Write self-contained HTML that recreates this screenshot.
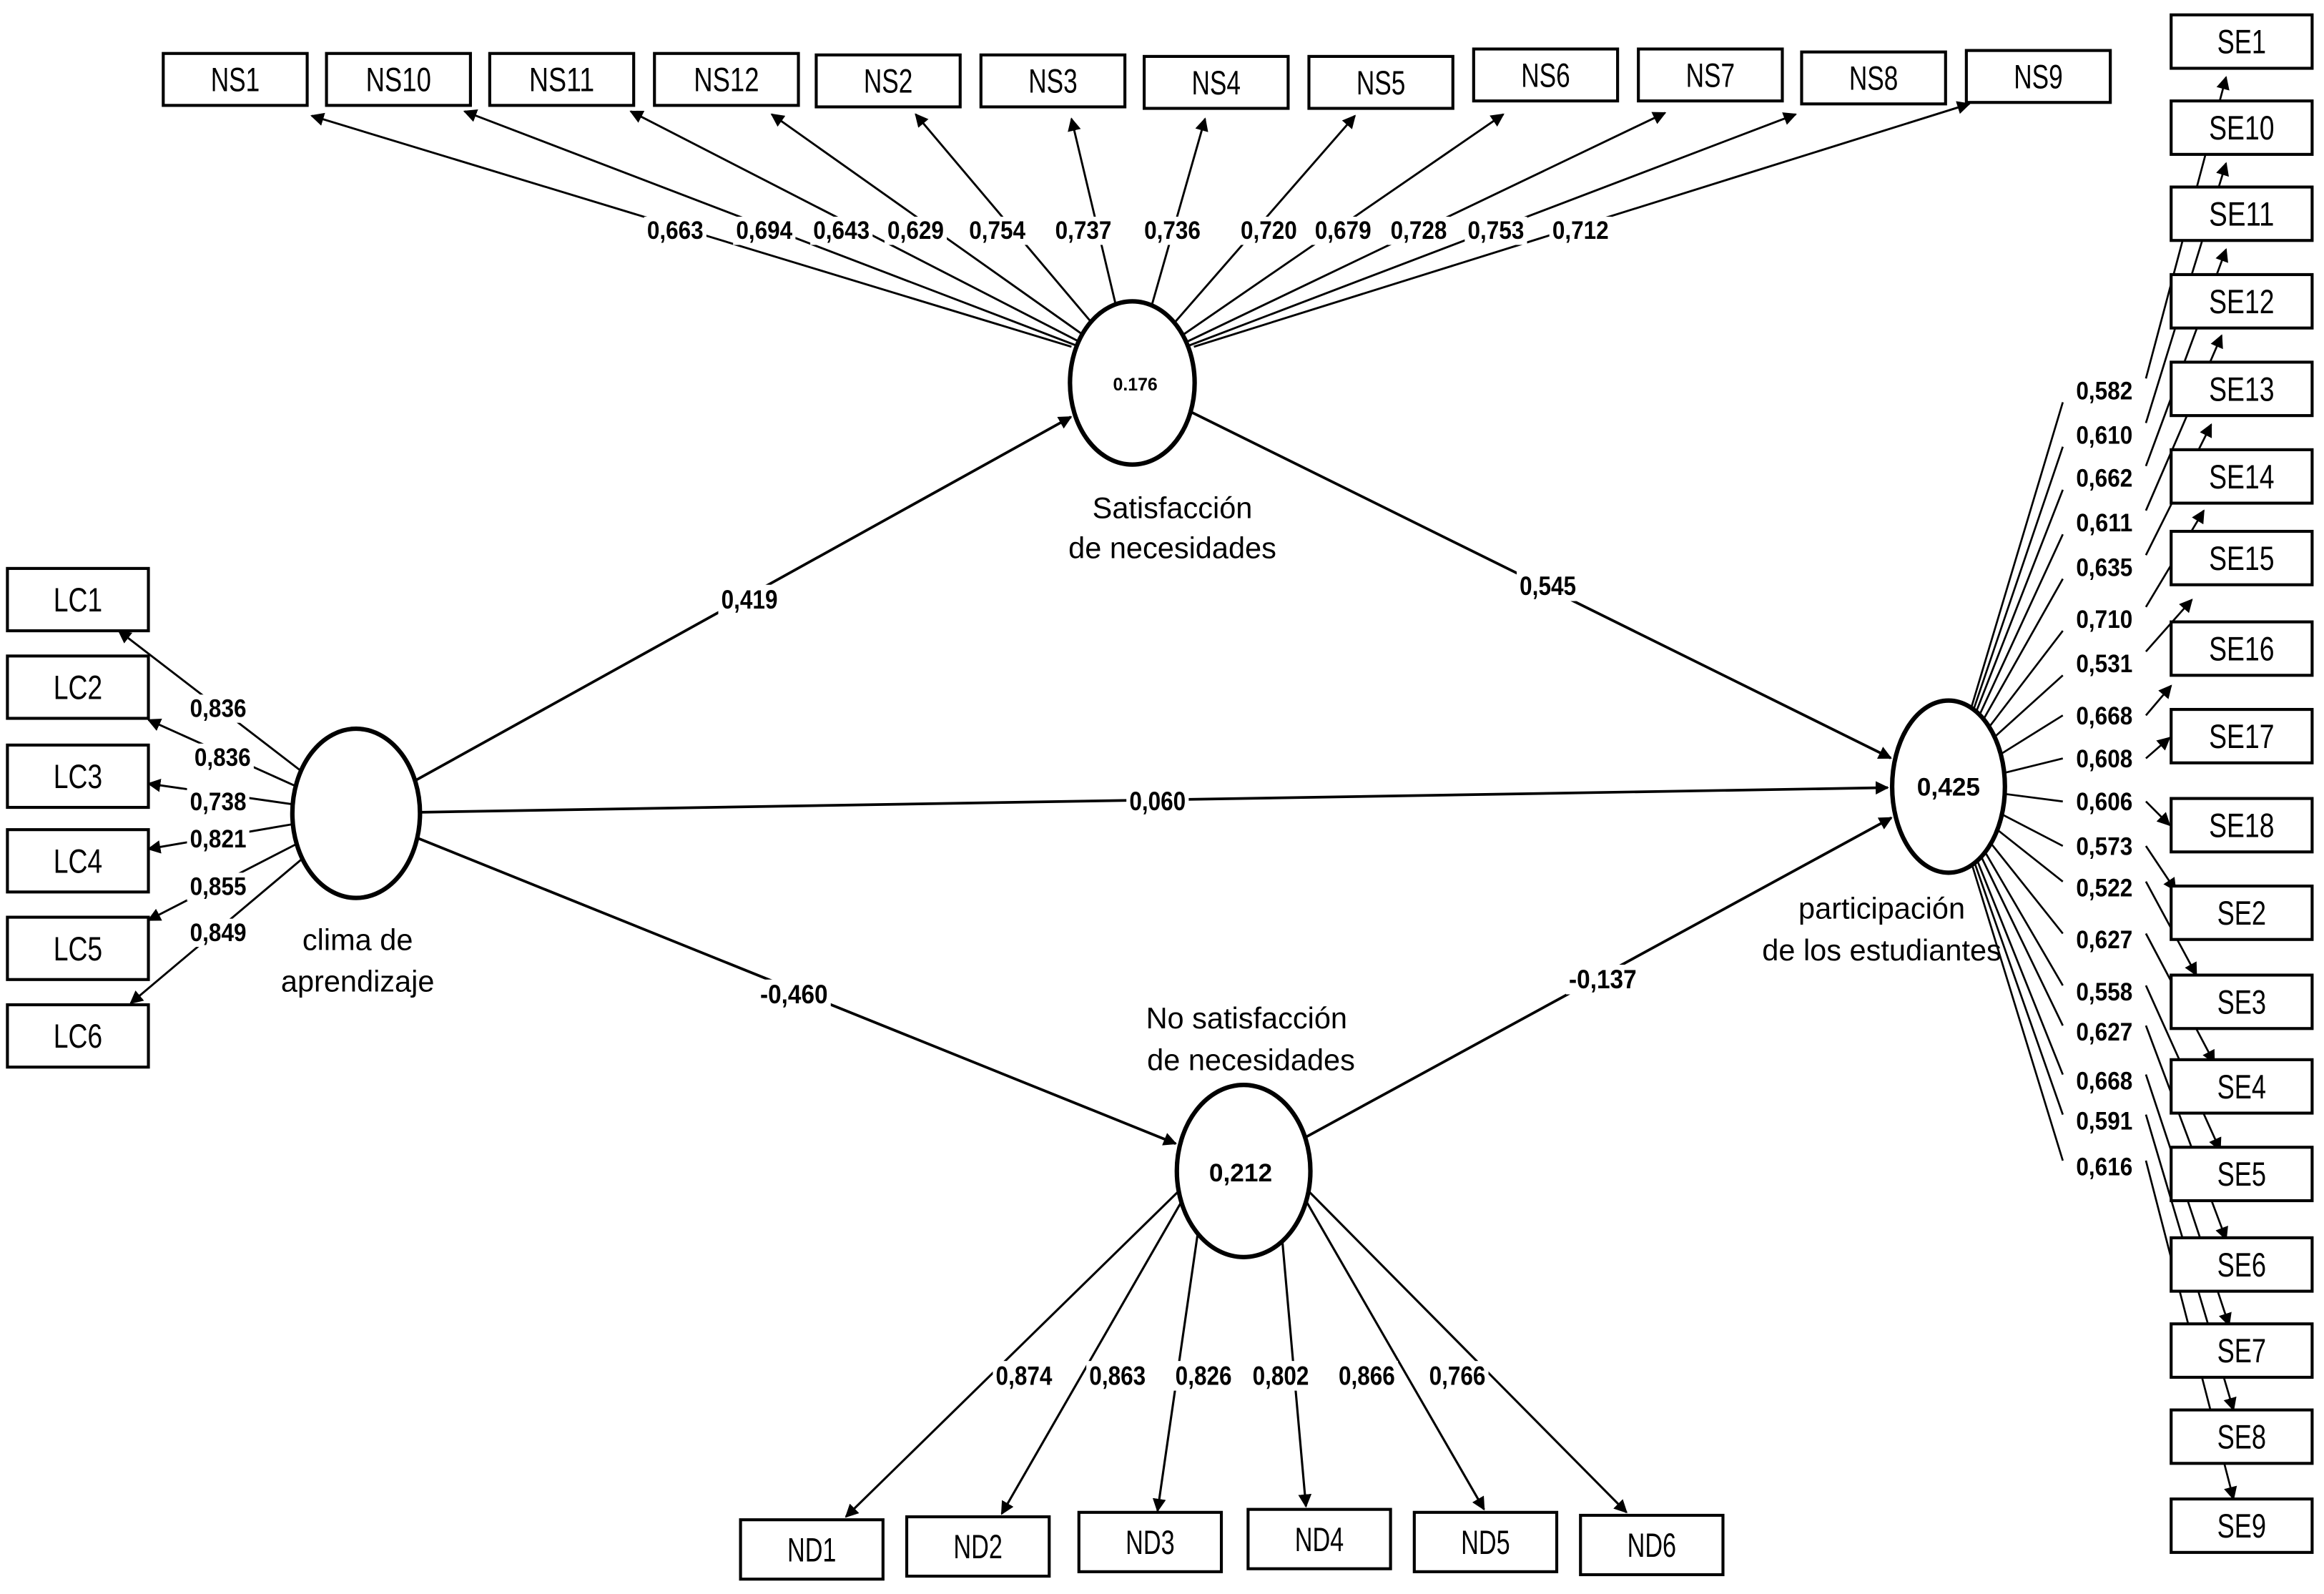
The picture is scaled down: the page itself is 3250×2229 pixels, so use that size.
<!DOCTYPE html>
<html><head><meta charset="utf-8"><style>
html,body{margin:0;padding:0;background:#fff;}
svg{display:block;}
text{font-family:"Liberation Sans",sans-serif;fill:#000;}
</style></head><body>
<svg id="s" width="3250" height="2229" viewBox="0 0 1566 1074" xmlns="http://www.w3.org/2000/svg">
<defs><marker id="a" viewBox="0 0 10 10" refX="9" refY="5" markerWidth="5" markerHeight="5" orient="auto" markerUnits="userSpaceOnUse"><path d="M0,0L10,5L0,10z" fill="#000"/></marker>
<marker id="b" viewBox="0 0 10 10" refX="9" refY="5" markerWidth="9" markerHeight="9" orient="auto" markerUnits="userSpaceOnUse"><path d="M0,0L10,5L0,10z" fill="#000"/></marker></defs>
</svg>
<script>
var s=document.getElementById('s'),NS='http://www.w3.org/2000/svg';
function el(t,a,txt){var e=document.createElementNS(NS,t);for(var k in a)e.setAttribute(k,a[k]);if(txt!=null)e.textContent=txt;s.appendChild(e);return e;}
function line(x1,y1,x2,y2,arr,w){el('line',{x1:x1,y1:y1,x2:x2,y2:y2,stroke:'#000','stroke-width':w||1.6,'marker-end':arr?'url(#b)':''});}
function box(x,y,w,h,t){el('rect',{x:x,y:y,width:w,height:h,fill:'#fff',stroke:'#000','stroke-width':2});
 el('text',{x:x+w/2,y:y+h/2+8,'font-size':23,'text-anchor':'middle',textLength:t.length*11,lengthAdjust:'spacingAndGlyphs'},t);}
function lab(x,y,t,fs){fs=fs||17;var w=t.length*7.6;el('rect',{x:x-w/2-2,y:y-fs+2,width:w+4,height:fs+2,fill:'#fff'});
 el('text',{x:x,y:y,'font-size':fs,'text-anchor':'middle','font-weight':'bold',textLength:w,lengthAdjust:'spacingAndGlyphs'},t);}
function ell(cx,cy,rx,ry){el('ellipse',{cx:cx,cy:cy,rx:rx,ry:ry,fill:'#fff',stroke:'#000','stroke-width':3});}
function onE(cx,cy,rx,ry,tx,ty){var a=Math.atan2((ty-cy)/ry,(tx-cx)/rx);return [cx+rx*Math.cos(a),cy+ry*Math.sin(a)];}
// circles
var SN=[763,258,42,55],CA=[240,548,43,57],PE=[1313,530,38,58],ND=[838,789,45,58];
// structural
function path(A,B,lx,ly,t){var p=onE(A[0],A[1],A[2],A[3],B[0],B[1]),q=onE(B[0],B[1],B[2]+3,B[3]+3,A[0],A[1]);line(p[0],p[1],q[0],q[1],1,1.8);lab(lx,ly,t,18);}
path(CA,SN,505,410,'0,419');path(SN,PE,1043,401,'0,545');path(CA,PE,780,546,'0,060');path(CA,ND,535,676,'-0,460');path(ND,PE,1080,666,'-0,137');
// NS
var nsb=[[110,36,'NS1'],[220,36,'NS10'],[330,36,'NS11'],[441,36,'NS12'],[550,37,'NS2'],[661,37,'NS3'],[771,38,'NS4'],[882,38,'NS5'],[993,33,'NS6'],[1104,33,'NS7'],[1214,35,'NS8'],[1325,34,'NS9']];
var nse=[[210,78],[313,75],[425,75],[520,77],[617,77],[722,80],[812,80],[913,78],[1013,77],[1122,76],[1210,77],[1327,70]];
var nsl=[[455,'0,663'],[515,'0,694'],[567,'0,643'],[617,'0,629'],[672,'0,754'],[730,'0,737'],[790,'0,736'],[855,'0,720'],[905,'0,679'],[956,'0,728'],[1008,'0,753'],[1065,'0,712']];
for(var i=0;i<12;i++){var sx=722+i*7.5,sy=238-Math.abs(i-5.5)*0.8;line(sx,sy,nse[i][0],nse[i][1],1,1.4);}
for(i=0;i<12;i++)lab(nsl[i][0],161,nsl[i][1]);
for(i=0;i<12;i++)box(nsb[i][0],nsb[i][1],97,35,nsb[i][2]);
ell(SN[0],SN[1],SN[2],SN[3]);el('text',{x:765,y:263,'font-size':12,'text-anchor':'middle','font-weight':'bold'},'0.176');
el('text',{x:790,y:349,'font-size':20,'text-anchor':'middle'},'Satisfacción');el('text',{x:790,y:376,'font-size':20,'text-anchor':'middle'},'de necesidades');
// LC
var lcy=[383,442,502,559,618,677],lce=[[80,425],[100,485],[100,528],[100,572],[100,620],[88,676]],lcl=[[147,483,'0,836'],[150,516,'0,836'],[147,546,'0,738'],[147,571,'0,821'],[147,603,'0,855'],[147,634,'0,849']];
for(i=0;i<6;i++){var p=onE(CA[0],CA[1],CA[2],CA[3],lce[i][0],lce[i][1]);line(p[0],p[1],lce[i][0],lce[i][1],1,1.4);}
for(i=0;i<6;i++)lab(lcl[i][0],lcl[i][1],lcl[i][2]);
for(i=0;i<6;i++)box(5,lcy[i],95,42,'LC'+(i+1));
ell(CA[0],CA[1],CA[2],CA[3]);
el('text',{x:241,y:640,'font-size':20,'text-anchor':'middle'},'clima de');el('text',{x:241,y:668,'font-size':20,'text-anchor':'middle'},'aprendizaje');
// ND
var ndb=[[499,1024],[611,1022],[727,1019],[841,1017],[953,1019],[1065,1021]],nde=[[570,1022],[675,1020],[780,1018],[880,1015],[1000,1017],[1096,1019]],ndl=[[690,'0,874'],[753,'0,863'],[811,'0,826'],[863,'0,802'],[921,'0,866'],[982,'0,766']];
for(i=0;i<6;i++){var p=onE(ND[0],ND[1],ND[2],ND[3],nde[i][0],nde[i][1]-150);line(p[0],p[1],nde[i][0],nde[i][1],1,1.5);}
for(i=0;i<6;i++)lab(ndl[i][0],933,ndl[i][1],18);
for(i=0;i<6;i++)box(ndb[i][0],ndb[i][1],96,40,'ND'+(i+1));
ell(ND[0],ND[1],ND[2],ND[3]);el('text',{x:836,y:796,'font-size':17,'text-anchor':'middle','font-weight':'bold'},'0,212');
el('text',{x:840,y:693,'font-size':20,'text-anchor':'middle'},'No satisfacción');el('text',{x:843,y:721,'font-size':20,'text-anchor':'middle'},'de necesidades');
// SE
var seb=[[10,'SE1'],[68,'SE10'],[126,'SE11'],[185,'SE12'],[244,'SE13'],[303,'SE14'],[358,'SE15'],[419,'SE16'],[478,'SE17'],[538,'SE18'],[597,'SE2'],[657,'SE3'],[714,'SE4'],[773,'SE5'],[834,'SE6'],[892,'SE7'],[950,'SE8'],[1010,'SE9']];
var see=[[1500,52],[1500,110],[1500,168],[1497,226],[1490,286],[1485,344],[1477,404],[1463,462],[1462,497],[1462,556],[1466,600],[1480,657],[1492,716],[1496,775],[1500,835],[1502,893],[1505,950],[1505,1010]];
var sel=['0,582','0,610','0,662','0,611','0,635','0,710','0,531','0,668','0,608','0,606','0,573','0,522','0,627','0,558','0,627','0,668','0,591','0,616'];
var sly=[269,299,328,358,388,423,453,488,517,546,576,604,639,674,701,734,761,792];
for(i=0;i<18;i++){var ly=sly[i]-6,p=onE(PE[0],PE[1],PE[2],PE[3],1390,ly);
 if(i<7){line(p[0],p[1],1390,ly+8,0,1.3);line(1446,ly-8,see[i][0],see[i][1],1,1.3);}
 else if(i<11){line(p[0],p[1],1390,ly,0,1.3);line(1446,ly,see[i][0],see[i][1],1,1.3);}
 else{line(p[0],p[1],1390,ly-4,0,1.3);line(1446,ly-4,see[i][0],see[i][1],1,1.3);}}
for(i=0;i<18;i++)lab(1418,sly[i],sel[i]);
for(i=0;i<18;i++)box(1463,seb[i][0],95,36,seb[i][1]);
ell(PE[0],PE[1],PE[2],PE[3]);el('text',{x:1313,y:536,'font-size':17,'text-anchor':'middle','font-weight':'bold'},'0,425');
el('text',{x:1268,y:619,'font-size':20,'text-anchor':'middle'},'participación');el('text',{x:1268,y:647,'font-size':20,'text-anchor':'middle'},'de los estudiantes');
</script>
</body></html>
